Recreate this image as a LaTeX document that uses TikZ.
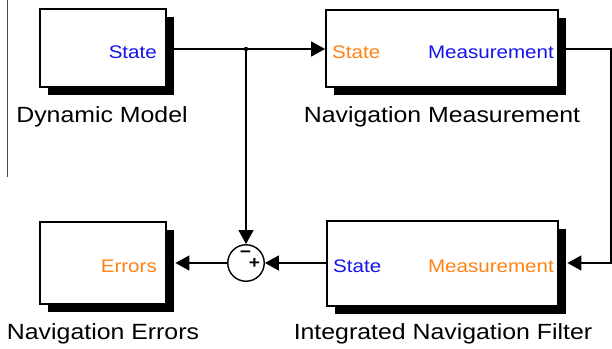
\documentclass[tikz,border=0pt]{standalone}
\usepackage{fontspec}
\setmainfont{Liberation Sans}[FakeStretch=1.13]
\usetikzlibrary{arrows.meta,shadows}
\definecolor{sblue}{RGB}{20,20,235}
\definecolor{sorange}{RGB}{255,130,20}
\begin{document}
\begin{tikzpicture}[x=1pt,y=-1pt,
  blk/.style={draw=black, line width=1.8pt, fill=white, inner sep=0pt,
    drop shadow={shadow xshift=7.5pt, shadow yshift=-7.5pt, fill=black, opacity=1}},
  port/.style={font=\fontsize{18.2}{19}\selectfont, inner sep=0pt, anchor=base},
  lab/.style={font=\fontsize{22}{23}\selectfont, inner sep=0pt, anchor=base},
  sgn/.style={font=\fontsize{17}{17}\selectfont\bfseries, inner sep=0pt},
  wire/.style={line width=1.6pt},
  arr/.style={wire, -{Triangle[length=14pt,width=15pt]}}
]
\useasboundingbox (0,0) rectangle (612,348);
\draw[gray!60!black, line width=1pt] (7,0) -- (7,177);

% blocks
\node[blk, minimum width=126pt, minimum height=78pt] (dm) at (103,48) {};
\node[blk, minimum width=232pt, minimum height=77pt] (nm) at (442,48.5) {};
\node[blk, minimum width=231pt, minimum height=85pt] (inf) at (442.5,263.5) {};
\node[blk, minimum width=126pt, minimum height=82pt] (ne) at (103,263) {};
\node[draw, line width=1.4pt, circle, minimum size=36.5pt, inner sep=0pt] (sum) at (246,263) {};

% port texts
\node[port, anchor=base east, text=sblue] (dmS) at (157,58) {State};
\node[port, anchor=base west, text=sorange] (nmS) at (332,58) {State};
\node[port, anchor=base east, text=sblue] (nmM) at (554,58) {Measurement};
\node[port, anchor=base west, text=sblue] (infS) at (333,272) {State};
\node[port, anchor=base east, text=sorange] (infM) at (554,272) {Measurement};
\node[port, anchor=base east, text=sorange] (neE) at (157,272) {Errors};

% labels
\node[lab] (dmL) at (102,122) {Dynamic Model};
\node[lab] (nmL) at (442,122) {Navigation Measurement};
\node[lab] (infL) at (443,339) {Integrated Navigation Filter};
\node[lab] (neL) at (103,339) {Navigation Errors};

% sum signs
\node[sgn] (minus) at (245.5,254) {\symbol{"2212}};
\node[sgn] (plus) at (254.5,263.5) {+};

% connectors
\coordinate (junc) at (246,49);
\draw[wire] (dm.east |- junc) -- (junc);
\draw[arr] (junc) -- (nm.west |- junc);
\fill (junc) circle (2.2pt);
\draw[arr] (junc) -- (sum.north);
\coordinate (rt) at (611,49);
\draw[arr] (nm.east |- rt) -- (rt) |- ([xshift=8.5pt]inf.east |- sum.east);
\draw[arr] (inf.west |- sum.east) -- (sum.east);
\draw[arr] (sum.west) -- ([xshift=8.5pt]ne.east |- sum.west);
\end{tikzpicture}
\end{document}
